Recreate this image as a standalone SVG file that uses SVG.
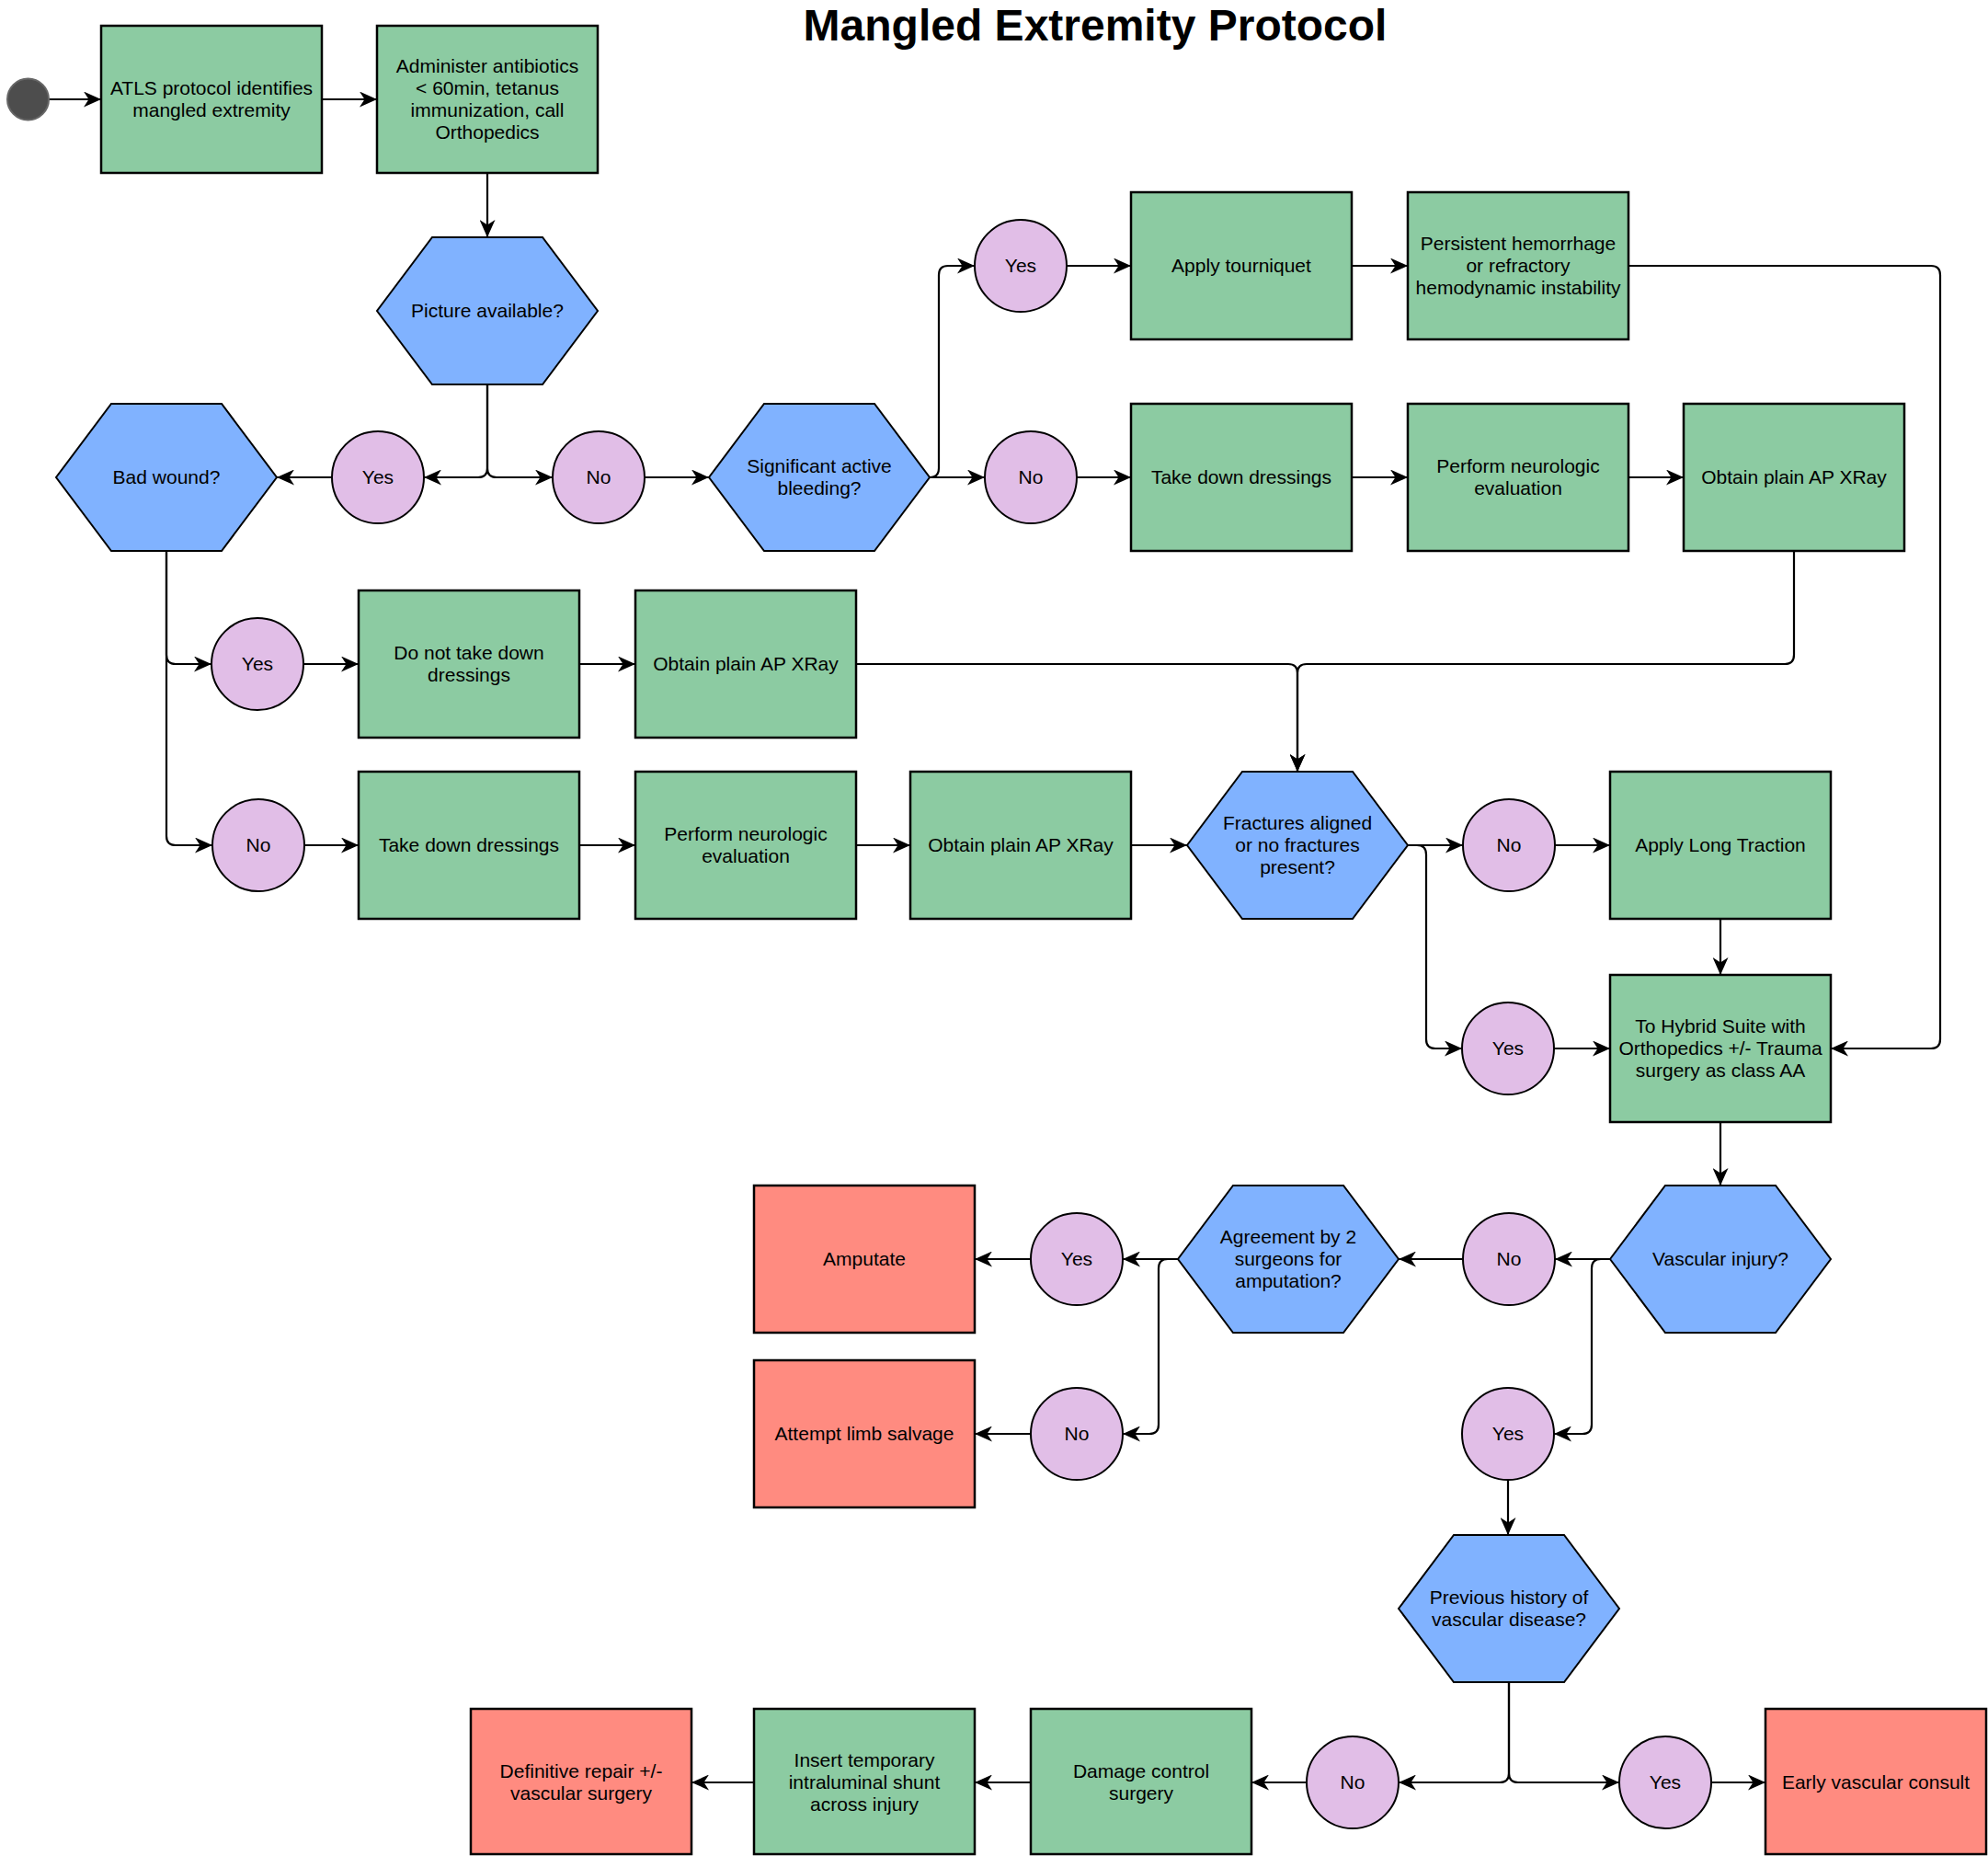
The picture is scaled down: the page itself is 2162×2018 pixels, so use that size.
<svg xmlns="http://www.w3.org/2000/svg" width="2162" height="2018" viewBox="0 0 2162 2018">
<style>
.box{fill:#8CCBA2;stroke:#000;stroke-width:2.5}
.red{fill:#FF8B80;stroke:#000;stroke-width:2.5}
.hex{fill:#80B2FF;stroke:#000;stroke-width:2}
.lbl{fill:#E1BEE7;stroke:#000;stroke-width:2}
.t{font-family:"Liberation Sans",Arial,Helvetica,sans-serif;font-size:21px;fill:#000;text-anchor:middle}
.title{font-family:"Liberation Sans",Arial,Helvetica,sans-serif;font-size:48px;font-weight:bold;fill:#000;text-anchor:middle}
.c{fill:none;stroke:#000;stroke-width:2.2;marker-end:url(#arr)}
</style>
<defs>
<marker id="arr" viewBox="0 0 19 17" refX="19" refY="8.5" markerWidth="19" markerHeight="17" markerUnits="userSpaceOnUse" orient="auto">
<path d="M0,0 L19,8.5 L0,17 L5.5,8.5 z" fill="#000"/>
</marker>
</defs>
<rect width="2162" height="2018" fill="#fff"/>
<g transform="translate(0,2)">
<text class="title" x="1191" y="42">Mangled Extremity Protocol</text>

<g id="connectors">
<path class="c" d="M53,106 H110"/>
<path class="c" d="M350,106 H410"/>
<path class="c" d="M530,186 V256"/>
<path class="c" d="M530,416 V507 Q530,517 520,517 H461"/>
<path class="c" d="M530,416 V507 Q530,517 540,517 H601"/>
<path class="c" d="M361,517 H301"/>
<path class="c" d="M701,517 H771"/>
<path class="c" d="M1011,517 H1071"/>
<path class="c" d="M1011,517 Q1021,517 1021,507 V297 Q1021,287 1031,287 H1060"/>
<path class="c" d="M1160,287 H1230"/>
<path class="c" d="M1470,287 H1531"/>
<path class="c" d="M1771,287 H2100 Q2110,287 2110,297 V1128 Q2110,1138 2100,1138 H1991"/>
<path class="c" d="M1171,517 H1230"/>
<path class="c" d="M1470,517 H1531"/>
<path class="c" d="M1771,517 H1831"/>
<path class="c" d="M1951,597 V710 Q1951,720 1941,720 H1421 Q1411,720 1411,730 V837"/>
<path class="c" d="M931,720 H1401 Q1411,720 1411,730 V837"/>
<path class="c" d="M181,597 V710 Q181,720 191,720 H230"/>
<path class="c" d="M181,597 V907 Q181,917 191,917 H231"/>
<path class="c" d="M330,720 H390"/>
<path class="c" d="M630,720 H691"/>
<path class="c" d="M331,917 H390"/>
<path class="c" d="M630,917 H691"/>
<path class="c" d="M931,917 H990"/>
<path class="c" d="M1230,917 H1291"/>
<path class="c" d="M1531,917 H1591"/>
<path class="c" d="M1531,917 H1541 Q1551,917 1551,927 V1128 Q1551,1138 1561,1138 H1590"/>
<path class="c" d="M1691,917 H1751"/>
<path class="c" d="M1871,997 V1058"/>
<path class="c" d="M1690,1138 H1751"/>
<path class="c" d="M1871,1218 V1287"/>
<path class="c" d="M1751,1367 H1691"/>
<path class="c" d="M1751,1367 H1741 Q1731,1367 1731,1377 V1547 Q1731,1557 1721,1557 H1690"/>
<path class="c" d="M1591,1367 H1521"/>
<path class="c" d="M1281,1367 H1221"/>
<path class="c" d="M1281,1367 H1270 Q1260,1367 1260,1377 V1547 Q1260,1557 1250,1557 H1221"/>
<path class="c" d="M1121,1367 H1060"/>
<path class="c" d="M1121,1557 H1060"/>
<path class="c" d="M1640,1607 V1667"/>
<path class="c" d="M1641,1827 V1926 Q1641,1936 1631,1936 H1521"/>
<path class="c" d="M1641,1827 V1926 Q1641,1936 1651,1936 H1761"/>
<path class="c" d="M1421,1936 H1361"/>
<path class="c" d="M1121,1936 H1060"/>
<path class="c" d="M820,1936 H752"/>
<path class="c" d="M1861,1936 H1920"/>
</g>

<g id="start"><circle cx="30.5" cy="106" r="22.5" fill="#4D4D4D" stroke="#666" stroke-width="2"/></g>

<g id="n_atls"><rect class="box" x="110" y="26" width="240" height="160"/>
<text class="t" x="230" y="101">ATLS protocol identifies<tspan x="230" dy="24">mangled extremity</tspan></text></g>

<g id="n_admin"><rect class="box" x="410" y="26" width="240" height="160"/>
<text class="t" x="530" y="77">Administer antibiotics<tspan x="530" dy="24">&lt; 60min, tetanus</tspan><tspan x="530" dy="24">immunization, call</tspan><tspan x="530" dy="24">Orthopedics</tspan></text></g>

<g id="n_picture"><polygon class="hex" points="470,256 590,256 650,336 590,416 470,416 410,336"/>
<text class="t" x="530" y="343">Picture available?</text></g>

<g id="n_badwound"><polygon class="hex" points="121,437 241,437 301,517 241,597 121,597 61,517"/>
<text class="t" x="181" y="524">Bad wound?</text></g>

<g id="n_yes1"><circle class="lbl" cx="411" cy="517" r="50"/><text class="t" x="411" y="524">Yes</text></g>
<g id="n_no1"><circle class="lbl" cx="651" cy="517" r="50"/><text class="t" x="651" y="524">No</text></g>

<g id="n_bleeding"><polygon class="hex" points="831,437 951,437 1011,517 951,597 831,597 771,517"/>
<text class="t" x="891" y="512">Significant active<tspan x="891" dy="24">bleeding?</tspan></text></g>

<g id="n_yes2"><circle class="lbl" cx="1110" cy="287" r="50"/><text class="t" x="1110" y="294">Yes</text></g>
<g id="n_no2"><circle class="lbl" cx="1121" cy="517" r="50"/><text class="t" x="1121" y="524">No</text></g>

<g id="n_tourniquet"><rect class="box" x="1230" y="207" width="240" height="160"/>
<text class="t" x="1350" y="294">Apply tourniquet</text></g>

<g id="n_persistent"><rect class="box" x="1531" y="207" width="240" height="160"/>
<text class="t" x="1651" y="270">Persistent hemorrhage<tspan x="1651" dy="24">or refractory</tspan><tspan x="1651" dy="24">hemodynamic instability</tspan></text></g>

<g id="n_takedown1"><rect class="box" x="1230" y="437" width="240" height="160"/>
<text class="t" x="1350" y="524">Take down dressings</text></g>

<g id="n_neuro1"><rect class="box" x="1531" y="437" width="240" height="160"/>
<text class="t" x="1651" y="512">Perform neurologic<tspan x="1651" dy="24">evaluation</tspan></text></g>

<g id="n_xray1"><rect class="box" x="1831" y="437" width="240" height="160"/>
<text class="t" x="1951" y="524">Obtain plain AP XRay</text></g>

<g id="n_yes3"><circle class="lbl" cx="280" cy="720" r="50"/><text class="t" x="280" y="727">Yes</text></g>

<g id="n_donot"><rect class="box" x="390" y="640" width="240" height="160"/>
<text class="t" x="510" y="715">Do not take down<tspan x="510" dy="24">dressings</tspan></text></g>

<g id="n_xray2"><rect class="box" x="691" y="640" width="240" height="160"/>
<text class="t" x="811" y="727">Obtain plain AP XRay</text></g>

<g id="n_no3"><circle class="lbl" cx="281" cy="917" r="50"/><text class="t" x="281" y="924">No</text></g>

<g id="n_takedown2"><rect class="box" x="390" y="837" width="240" height="160"/>
<text class="t" x="510" y="924">Take down dressings</text></g>

<g id="n_neuro2"><rect class="box" x="691" y="837" width="240" height="160"/>
<text class="t" x="811" y="912">Perform neurologic<tspan x="811" dy="24">evaluation</tspan></text></g>

<g id="n_xray3"><rect class="box" x="990" y="837" width="240" height="160"/>
<text class="t" x="1110" y="924">Obtain plain AP XRay</text></g>

<g id="n_fractures"><polygon class="hex" points="1351,837 1471,837 1531,917 1471,997 1351,997 1291,917"/>
<text class="t" x="1411" y="900">Fractures aligned<tspan x="1411" dy="24">or no fractures</tspan><tspan x="1411" dy="24">present?</tspan></text></g>

<g id="n_no4"><circle class="lbl" cx="1641" cy="917" r="50"/><text class="t" x="1641" y="924">No</text></g>

<g id="n_traction"><rect class="box" x="1751" y="837" width="240" height="160"/>
<text class="t" x="1871" y="924">Apply Long Traction</text></g>

<g id="n_yes4"><circle class="lbl" cx="1640" cy="1138" r="50"/><text class="t" x="1640" y="1145">Yes</text></g>

<g id="n_hybrid"><rect class="box" x="1751" y="1058" width="240" height="160"/>
<text class="t" x="1871" y="1121">To Hybrid Suite with<tspan x="1871" dy="24">Orthopedics +/- Trauma</tspan><tspan x="1871" dy="24">surgery as class AA</tspan></text></g>

<g id="n_vascular"><polygon class="hex" points="1811,1287 1931,1287 1991,1367 1931,1447 1811,1447 1751,1367"/>
<text class="t" x="1871" y="1374">Vascular injury?</text></g>

<g id="n_no5"><circle class="lbl" cx="1641" cy="1367" r="50"/><text class="t" x="1641" y="1374">No</text></g>

<g id="n_agreement"><polygon class="hex" points="1341,1287 1461,1287 1521,1367 1461,1447 1341,1447 1281,1367"/>
<text class="t" x="1401" y="1350">Agreement by 2<tspan x="1401" dy="24">surgeons for</tspan><tspan x="1401" dy="24">amputation?</tspan></text></g>

<g id="n_yes5"><circle class="lbl" cx="1171" cy="1367" r="50"/><text class="t" x="1171" y="1374">Yes</text></g>

<g id="n_amputate"><rect class="red" x="820" y="1287" width="240" height="160"/>
<text class="t" x="940" y="1374">Amputate</text></g>

<g id="n_no6"><circle class="lbl" cx="1171" cy="1557" r="50"/><text class="t" x="1171" y="1564">No</text></g>

<g id="n_salvage"><rect class="red" x="820" y="1477" width="240" height="160"/>
<text class="t" x="940" y="1564">Attempt limb salvage</text></g>

<g id="n_yes6"><circle class="lbl" cx="1640" cy="1557" r="50"/><text class="t" x="1640" y="1564">Yes</text></g>

<g id="n_previous"><polygon class="hex" points="1581,1667 1701,1667 1761,1747 1701,1827 1581,1827 1521,1747"/>
<text class="t" x="1641" y="1742">Previous history of<tspan x="1641" dy="24">vascular disease?</tspan></text></g>

<g id="n_no7"><circle class="lbl" cx="1471" cy="1936" r="50"/><text class="t" x="1471" y="1943">No</text></g>

<g id="n_yes7"><circle class="lbl" cx="1811" cy="1936" r="50"/><text class="t" x="1811" y="1943">Yes</text></g>

<g id="n_damage"><rect class="box" x="1121" y="1856" width="240" height="158"/>
<text class="t" x="1241" y="1931">Damage control<tspan x="1241" dy="24">surgery</tspan></text></g>

<g id="n_shunt"><rect class="box" x="820" y="1856" width="240" height="158"/>
<text class="t" x="940" y="1919">Insert temporary<tspan x="940" dy="24">intraluminal shunt</tspan><tspan x="940" dy="24">across injury</tspan></text></g>

<g id="n_definitive"><rect class="red" x="512" y="1856" width="240" height="158"/>
<text class="t" x="632" y="1931">Definitive repair +/-<tspan x="632" dy="24">vascular surgery</tspan></text></g>

<g id="n_early"><rect class="red" x="1920" y="1856" width="240" height="158"/>
<text class="t" x="2040" y="1943">Early vascular consult</text></g>
</g>
</svg>
